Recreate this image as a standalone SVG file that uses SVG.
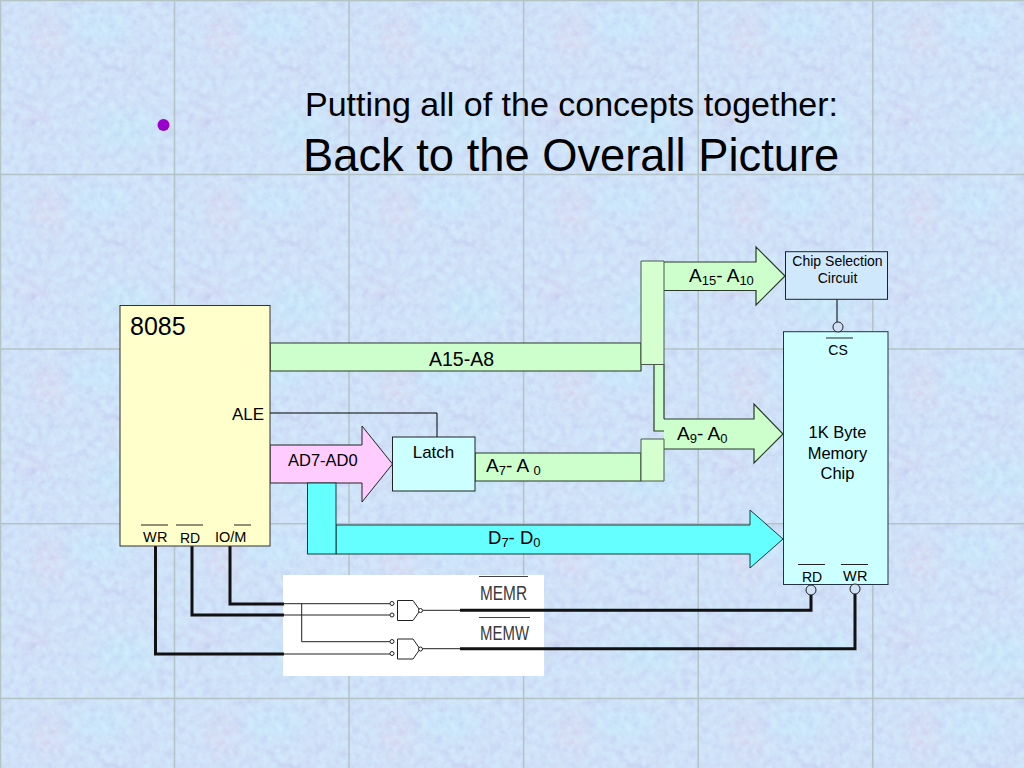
<svg xmlns="http://www.w3.org/2000/svg" width="1024" height="768" viewBox="0 0 1024 768">
<style>
text{font-family:"Liberation Sans",Arial,sans-serif;fill:#000}
.n{fill:none;stroke:#000;stroke-width:1}
.t{fill:none;stroke:#111;stroke-width:3}
.g{fill:#ccffcc;stroke:#2a3a2a;stroke-width:1.2}
.f{fill:#ccffcc}
.k{fill:#d6ffd0;stroke:#4a5a4a;stroke-width:1}
.e{fill:none;stroke:#2a3a2a;stroke-width:1.2}
.bar{stroke:#222;stroke-width:1}
.m{fill:#3a3a3a}
.gl{stroke:#b4c3c6;stroke-width:1.5}
</style>
<defs>
<filter id="noise" x="0" y="0" width="100%" height="100%" color-interpolation-filters="sRGB">
<feTurbulence type="fractalNoise" baseFrequency="0.11" numOctaves="3" seed="7" stitchTiles="stitch"/>
<feColorMatrix values="0 0 0 0 0.74  0 0 0 0 0.78  0 0 0 0 0.93  1.1 0 0 0 -0.42"/>
</filter>
<filter id="noise2" x="0" y="0" width="100%" height="100%" color-interpolation-filters="sRGB">
<feTurbulence type="fractalNoise" baseFrequency="0.14" numOctaves="3" seed="21" stitchTiles="stitch"/>
<feColorMatrix values="0 0 0 0 0.84  0 0 0 0 0.95  0 0 0 0 1  0 1.2 0 0 -0.38"/>
</filter>
<filter id="soft" color-interpolation-filters="sRGB"><feGaussianBlur stdDeviation="10"/></filter>
<pattern id="tile" width="174.6" height="174.6" patternUnits="userSpaceOnUse">
<rect width="174.6" height="174.6" fill="#cfe0f7"/>
<g filter="url(#soft)">
<ellipse cx="48" cy="38" rx="12" ry="24" fill="#e2cfea" opacity=".6"/>
<ellipse cx="32" cy="115" rx="18" ry="12" fill="#dccfee" opacity=".6"/>
<ellipse cx="125" cy="72" rx="18" ry="10" fill="#d2d0f0" opacity=".5"/>
<ellipse cx="125" cy="130" rx="30" ry="18" fill="#c4e8f9" opacity=".8"/>
<ellipse cx="100" cy="25" rx="30" ry="14" fill="#c6e8fb" opacity=".8"/>
</g>
<rect width="174.6" height="174.6" filter="url(#noise)"/>
<rect width="174.6" height="174.6" filter="url(#noise2)"/>
</pattern>
</defs>
<g id="background">
<rect width="1024" height="768" fill="url(#tile)"/>
<path class="gl" d="M0.500 0V768M174.500 0V768M349 0V768M523.600 0V768M698.200 0V768M872.800 0V768M0 0.500H1024M0 174.500H1024M0 349H1024M0 523.800H1024M0 698.400H1024"/>
</g>
<g id="title">
<circle cx="163.500" cy="125" r="6" fill="#9900cc"/>
<text x="305" y="116" font-size="34">Putting all of the concepts together:</text>
<text x="303" y="171" font-size="45.300">Back to the Overall Picture</text>
</g>
<g id="connectors">
<path class="f" d="M664 262H756V247L785 276L756 305V290.500H664Z"/>
<path class="e" d="M664 262H756V247L785 276L756 305V290.500H664"/>
<path class="g" d="M270 343H641V371H270Z"/>
<path class="g" d="M475 453H641V481H475Z"/>
<path class="f" d="M654 364H664V431H654Z"/>
<path class="e" d="M654 364V431H664M664 364V419"/>
<path class="f" d="M664 419H754V404L783 434L754 463V449H664Z"/>
<path class="e" d="M664 419H754V404L783 434L754 463V449H664"/>
<path class="k" d="M641 481V439H664V481Z"/>
<path class="k" d="M641 261H664V364.500H641Z"/>
<path d="M270 445H362V426L392.500 464L362 502V483H270Z" fill="#ffccff" stroke="#222" stroke-width="1"/>
<path d="M336 525H750V510L783 539L750 568V554H336Z" fill="#66ffff" stroke="#1b3a3a" stroke-width="1"/>
<rect x="307.500" y="483" width="28.500" height="71" fill="#66ffff" stroke="#1b3a3a" stroke-width="1"/>
<path class="n" d="M270 413H437V437"/>
<path class="n" d="M837 299V322"/>
</g>
<g id="gate-logic">
<rect x="283" y="575" width="261" height="101" fill="#fff"/>
<path class="t" d="M155.500 546V654H284M192 546V615H284M230 546V604H284"/>
<path d="M283 603.700H390M283 615H390M283 654H390M301.700 603.700V641.700H390" fill="none" stroke="#222" stroke-width="1"/>
<g fill="#fff" stroke="#222" stroke-width="1">
<circle cx="392" cy="603.500" r="2"/><circle cx="392" cy="615" r="2"/>
<circle cx="392" cy="641.500" r="2"/><circle cx="392" cy="653.500" r="2"/>
<path d="M397.500 600.500H413L420 610.500L413 620.500H397.500Z"/>
<path d="M397.500 639H413L420 649L413 659H397.500Z"/>
<circle cx="420.500" cy="610.500" r="2"/><circle cx="420.500" cy="649" r="2"/>
</g>
<path d="M423 610.300H460M423 648.700H460" stroke="#222" stroke-width="1"/>
<path class="t" d="M460 610.300H811V595M460 648.700H855V594"/>
<path d="M479 576.500H528M479 617.500H530" stroke="#444" stroke-width="1.200"/>
<text class="m" x="480" y="600" font-size="21" textLength="47" lengthAdjust="spacingAndGlyphs">MEMR</text>
<text class="m" x="480" y="640" font-size="21" textLength="49" lengthAdjust="spacingAndGlyphs">MEMW</text>
</g>
<g id="cpu-8085">
<rect x="120" y="305.500" width="150" height="240.500" fill="#ffffcc" stroke="#333" stroke-width="1"/>
<text x="130" y="335" font-size="25">8085</text>
<text x="232" y="420" font-size="17">ALE</text>
<path class="bar" d="M141 525H168M176 525H203M234 525H251"/>
<text x="143" y="542" font-size="14.500">W</text><text x="157" y="542" font-size="14.500">R</text>
<text x="180" y="543" font-size="14">RD</text>
<text x="215" y="542" font-size="14.500">IO/M</text>
</g>
<g id="latch">
<rect x="392.500" y="437" width="82.500" height="54" fill="#ccffff" stroke="#222" stroke-width="1"/>
<text x="433.500" y="458" font-size="17" text-anchor="middle">Latch</text>
</g>
<g id="chip-selection">
<rect x="785.500" y="251.700" width="102" height="47.600" fill="#cfe8fc" stroke="#222" stroke-width="1"/>
<text x="837.500" y="266" font-size="14" text-anchor="middle">Chip Selection</text>
<text x="837.500" y="283" font-size="14" text-anchor="middle">Circuit</text>
</g>
<g id="memory-chip">
<rect x="783.500" y="331.700" width="104.500" height="252.800" fill="#ccffff" stroke="#234" stroke-width="1"/>
<path class="bar" d="M826 338H853M798 564.500H825M841 564.500H868"/>
<text x="838" y="355" font-size="14" text-anchor="middle">CS</text>
<text x="837.500" y="438" font-size="16.500" text-anchor="middle">1K Byte</text>
<text x="837.500" y="459" font-size="16.500" text-anchor="middle">Memory</text>
<text x="837.500" y="479" font-size="16.500" text-anchor="middle">Chip</text>
<text x="802" y="582" font-size="14">RD</text>
<text x="843" y="581" font-size="14.500">W</text><text x="857" y="581" font-size="14.500">R</text>
<circle cx="838" cy="327" r="5" fill="#cfe0f7" stroke="#222"/>
<circle cx="811" cy="590" r="5" fill="#cfe0f7" stroke="#222"/>
<circle cx="855" cy="589" r="5" fill="#cfe0f7" stroke="#222"/>
</g>
<g id="labels">
<text x="429" y="366" font-size="19.500">A15-A8</text>
<text x="288" y="466" font-size="16.500">AD7-AD0</text>
<text x="689" y="282" font-size="19">A<tspan font-size="13" dy="3">15</tspan><tspan dy="-3">- A</tspan><tspan font-size="13" dy="3">10</tspan></text>
<text x="677" y="440" font-size="19">A<tspan font-size="13" dy="3">9</tspan><tspan dy="-3">- A</tspan><tspan font-size="13" dy="3">0</tspan></text>
<text x="486" y="472" font-size="19">A<tspan font-size="13" dy="3">7</tspan><tspan dy="-3">- A </tspan><tspan font-size="13" dy="3">0</tspan></text>
<text x="488" y="544" font-size="18.500">D<tspan font-size="13" dy="3">7</tspan><tspan dy="-3">- D</tspan><tspan font-size="13" dy="3">0</tspan></text>
</g>
</svg>
